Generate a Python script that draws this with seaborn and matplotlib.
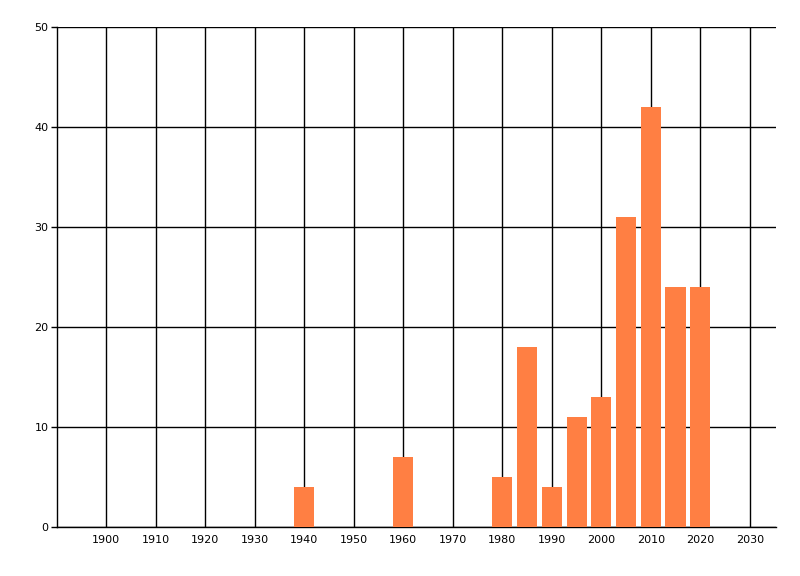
import matplotlib
matplotlib.use("Agg")
import matplotlib.pyplot as plt
import seaborn as sns
import pandas as pd

years = [1940, 1960, 1980, 1985, 1990, 1995, 2000, 2005, 2010, 2015, 2020]
counts = [4, 7, 5, 18, 4, 11, 13, 31, 42, 24, 24]
x_ticks = list(range(1900, 2031, 10))
y_ticks = [0, 10, 20, 30, 40, 50]

sns.set_style("white")
plt.rcParams['font.family'] = ['DejaVu Sans']

df = pd.DataFrame({"year": years, "count": counts})

fig = plt.figure(figsize=(8, 5.76), dpi=100)
ax = fig.add_axes([0.071, 0.085, 0.899, 0.868])

sns.barplot(data=df, x="year", y="count", native_scale=True, color="#FF7F43",
            saturation=1, width=0.81, linewidth=0, ax=ax, zorder=3)

ax.set_xlim(1890, 2035.3)
ax.set_ylim(0, 50)
ax.set_xticks(x_ticks)
ax.set_yticks(y_ticks)
ax.grid(True, color="black", linewidth=1, zorder=0)
ax.set_axisbelow(True)
for s in ["top", "right"]:
    ax.spines[s].set_visible(False)
for s in ["left", "bottom"]:
    ax.spines[s].set_color("black")
    ax.spines[s].set_linewidth(1)
ax.tick_params(axis="x", length=0, labelsize=8, pad=6, labelcolor="black")
ax.tick_params(axis="y", length=4, width=1, color="black", labelsize=8, pad=2,
               left=True, labelcolor="black")
ax.set_xlabel("")
ax.set_ylabel("")

fig.savefig("out.png", dpi=100)
